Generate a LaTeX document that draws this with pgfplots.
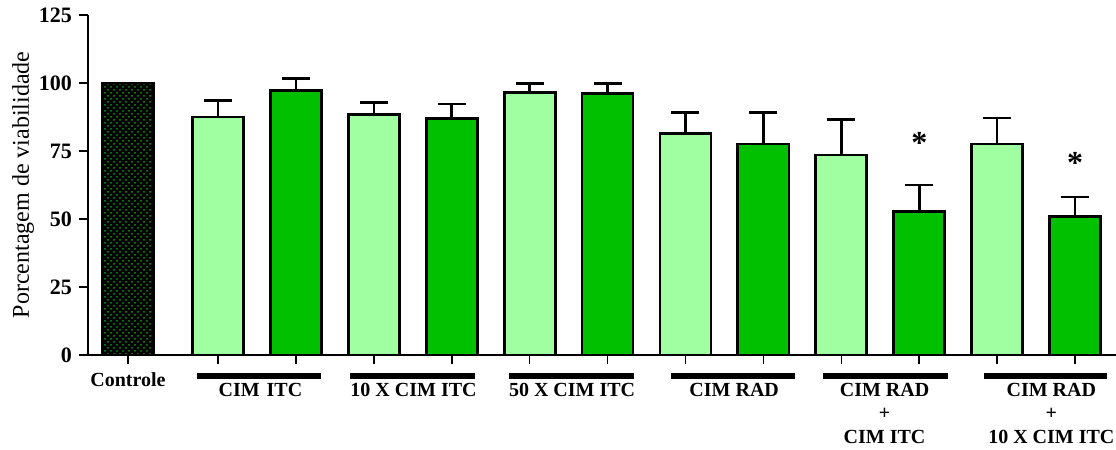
\documentclass[border=0pt]{standalone}
\usepackage{fontspec}
\setmainfont{Liberation Serif}
\usepackage{pgfplots}
\pgfplotsset{compat=1.18}
\usetikzlibrary{patterns}
\definecolor{lightg}{RGB}{160,255,160}
\definecolor{darkg}{RGB}{0,192,0}
\definecolor{dotg}{RGB}{20,150,20}
\begin{document}
\begin{tikzpicture}
\begin{axis}[
  at={(0,0)}, anchor=south west,
  scale only axis, width=514pt, height=170pt,
  xmin=-0.513, xmax=12.68, ymin=0, ymax=125,
  axis lines=left, axis line style={-, line width=1.2pt},
  ytick={0,25,50,75,100,125},
  xtick={0,1.155,2.155,3.155,4.155,5.155,6.155,7.155,8.155,9.155,10.155,11.155,12.155},
  xticklabels={Controle,,,,,,,,,,,,},
  /pgf/number format/assume math mode=true,
  yticklabel style={font=\fontsize{11}{13}\selectfont\bfseries},
  xticklabel style={font=\fontsize{10}{12}\selectfont\bfseries, yshift=-1pt},
  ytick style={line width=1.2pt, black},
  xtick style={line width=0.8pt, black},
  tick align=outside,
  major tick length=4.5pt,
  ylabel={Porcentagem de viabilidade},
  ylabel style={font=\fontsize{12}{14}\selectfont, at={(axis description cs:-0.0632,0.5)}, anchor=center},
  clip=false,
  ybar, bar shift=0pt, bar width=0.655,
]
\addplot[draw=black, line width=1.4pt, fill=black, postaction={pattern=crosshatch dots, pattern color=dotg}] coordinates {(0,100)};
\addplot[draw=black, line width=1.4pt, fill=lightg,
  error bars/.cd, y dir=plus, y explicit,
  error bar style={line width=1.3pt, black},
  error mark options={rotate=90, mark size=7pt, line width=1.3pt, black}]
  coordinates {
  (1.155,87.5) +- (0,6)
  (3.155,88.4) +- (0,4.5)
  (5.155,96.6) +- (0,3.3)
  (7.155,81.5) +- (0,7.6)
  (9.155,73.5) +- (0,13)
  (11.155,77.6) +- (0,9.5)
  };
\addplot[draw=black, line width=1.4pt, fill=darkg,
  error bars/.cd, y dir=plus, y explicit,
  error bar style={line width=1.3pt, black},
  error mark options={rotate=90, mark size=7pt, line width=1.3pt, black}]
  coordinates {
  (2.155,97.3) +- (0,4.3)
  (4.155,87.0) +- (0,5.3)
  (6.155,96.2) +- (0,3.7)
  (8.155,77.6) +- (0,11.5)
  (10.155,52.9) +- (0,9.6)
  (12.155,50.8) +- (0,7.3)
  };
% asterisks
\node[anchor=north, inner sep=0pt, font=\fontsize{16}{16}\selectfont\bfseries] at (axis cs:10.155,82) {*};
\node[anchor=north, inner sep=0pt, font=\fontsize{16}{16}\selectfont\bfseries] at (axis cs:12.155,74.6) {*};
% group lines
\draw[line width=2.6pt] (axis cs:0.886,-7.7) -- (axis cs:2.483,-7.7);
\draw[line width=2.6pt] (axis cs:2.85,-7.7) -- (axis cs:4.455,-7.7);
\draw[line width=2.6pt] (axis cs:4.89,-7.7) -- (axis cs:6.50,-7.7);
\draw[line width=2.6pt] (axis cs:6.97,-7.7) -- (axis cs:8.56,-7.7);
\draw[line width=2.6pt] (axis cs:8.92,-7.7) -- (axis cs:10.53,-7.7);
\draw[line width=2.6pt] (axis cs:10.98,-7.7) -- (axis cs:12.57,-7.7);
% group labels
\node[font=\fontsize{10}{12}\selectfont\bfseries, inner sep=0pt] at (axis cs:1.70,-12.9) {CIM\hspace{0.35em}ITC};
\node[font=\fontsize{10}{12}\selectfont\bfseries, inner sep=0pt] at (axis cs:3.665,-12.9) {10 X CIM ITC};
\node[font=\fontsize{10}{12}\selectfont\bfseries, inner sep=0pt] at (axis cs:5.70,-12.9) {50 X CIM ITC};
\node[font=\fontsize{10}{12}\selectfont\bfseries, inner sep=0pt] at (axis cs:7.78,-12.9) {CIM RAD};
\node[font=\fontsize{10}{12}\selectfont\bfseries, inner sep=0pt] at (axis cs:9.71,-12.9) {CIM RAD};
\node[font=\fontsize{10}{12}\selectfont\bfseries, inner sep=0pt] at (axis cs:9.71,-21.7) {+};
\node[font=\fontsize{10}{12}\selectfont\bfseries, inner sep=0pt] at (axis cs:9.71,-30.1) {CIM ITC};
\node[font=\fontsize{10}{12}\selectfont\bfseries, inner sep=0pt] at (axis cs:11.85,-12.9) {CIM RAD};
\node[font=\fontsize{10}{12}\selectfont\bfseries, inner sep=0pt] at (axis cs:11.85,-21.7) {+};
\node[font=\fontsize{10}{12}\selectfont\bfseries, inner sep=0pt] at (axis cs:11.85,-30.1) {10 X CIM ITC};
\end{axis}
\pgfresetboundingbox
\path[use as bounding box] (-44pt,-47.5pt) rectangle (514pt,177.5pt);
\end{tikzpicture}
\end{document}
